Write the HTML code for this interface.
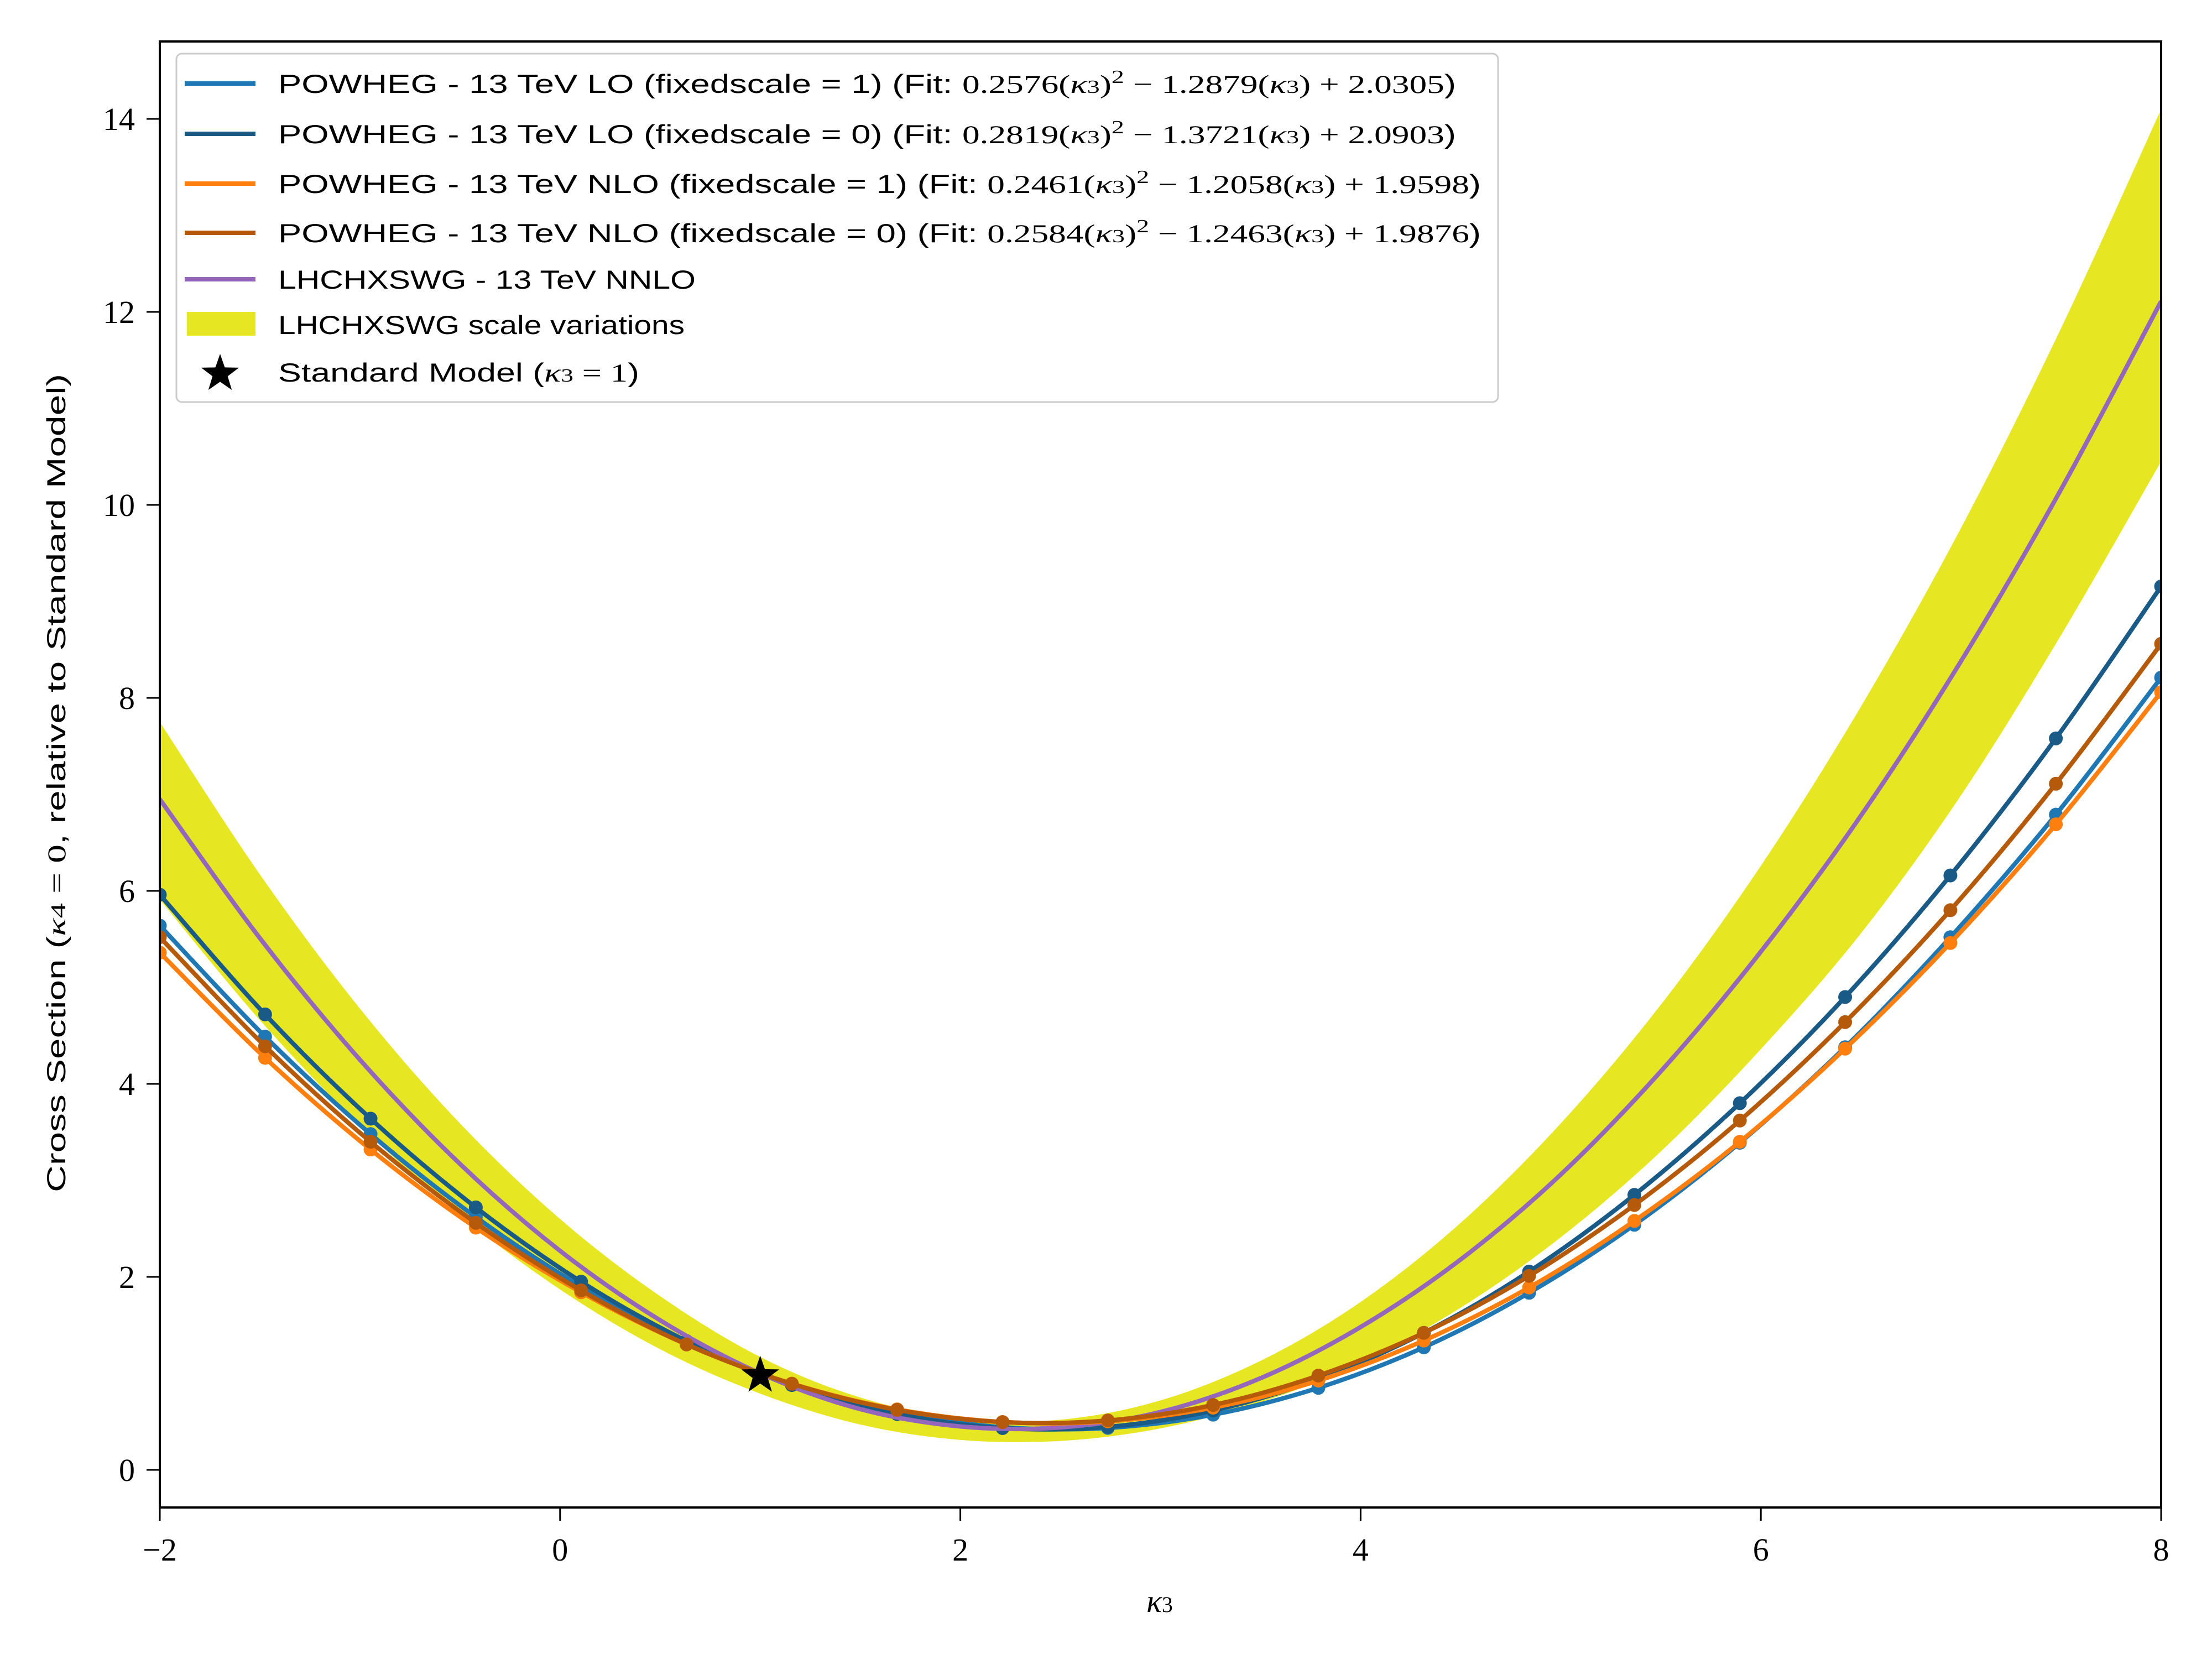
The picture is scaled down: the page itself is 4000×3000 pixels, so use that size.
<!DOCTYPE html>
<html><head><meta charset="utf-8"><style>
html,body{margin:0;padding:0;background:#fff;}
svg{display:block;}
.tick{font-family:"Liberation Serif",serif;font-size:58px;fill:#000;}
.leg{font-family:"Liberation Sans",sans-serif;font-size:47px;fill:#000;}
.m{font-family:"Liberation Serif",serif;}
</style></head><body>
<svg id="chart" xmlns="http://www.w3.org/2000/svg" width="4000" height="3000" viewBox="0 0 4000 3000">
<rect x="0" y="0" width="4000" height="3000" fill="#fff"/>
<defs><clipPath id="plotclip"><rect x="289" y="75" width="3619" height="2651"/></clipPath></defs>
<g id="plot" clip-path="url(#plotclip)"></g>
<g id="axes"></g>
<g id="legend">
 <rect x="319" y="97" width="2390" height="630" rx="10" fill="#fff" fill-opacity="0.85" stroke="#ccc" stroke-width="3"/>
 <g>
  <line x1="334" y1="151" x2="462" y2="151" stroke="#1f77b4" stroke-width="8"/>
  <text class="leg" x="503" y="168" textLength="2130" lengthAdjust="spacingAndGlyphs">POWHEG - 13 TeV LO (fixedscale = 1) (Fit: <tspan class="m">0.2576(<tspan font-style="italic">κ</tspan><tspan font-size="34">3</tspan>)<tspan font-size="34" dy="-18">2</tspan><tspan dy="18"> − 1.2879(</tspan><tspan font-style="italic">κ</tspan><tspan font-size="34">3</tspan>) + 2.0305</tspan>)</text>
 </g>
 <g>
  <line x1="334" y1="242" x2="462" y2="242" stroke="#1a5a87" stroke-width="8"/>
  <text class="leg" x="503" y="259" textLength="2130" lengthAdjust="spacingAndGlyphs">POWHEG - 13 TeV LO (fixedscale = 0) (Fit: <tspan class="m">0.2819(<tspan font-style="italic">κ</tspan><tspan font-size="34">3</tspan>)<tspan font-size="34" dy="-18">2</tspan><tspan dy="18"> − 1.3721(</tspan><tspan font-style="italic">κ</tspan><tspan font-size="34">3</tspan>) + 2.0903</tspan>)</text>
 </g>
 <g>
  <line x1="334" y1="332" x2="462" y2="332" stroke="#ff7f0e" stroke-width="8"/>
  <text class="leg" x="503" y="349" textLength="2175" lengthAdjust="spacingAndGlyphs">POWHEG - 13 TeV NLO (fixedscale = 1) (Fit: <tspan class="m">0.2461(<tspan font-style="italic">κ</tspan><tspan font-size="34">3</tspan>)<tspan font-size="34" dy="-18">2</tspan><tspan dy="18"> − 1.2058(</tspan><tspan font-style="italic">κ</tspan><tspan font-size="34">3</tspan>) + 1.9598</tspan>)</text>
 </g>
 <g>
  <line x1="334" y1="421" x2="462" y2="421" stroke="#b45a0a" stroke-width="8"/>
  <text class="leg" x="503" y="438" textLength="2175" lengthAdjust="spacingAndGlyphs">POWHEG - 13 TeV NLO (fixedscale = 0) (Fit: <tspan class="m">0.2584(<tspan font-style="italic">κ</tspan><tspan font-size="34">3</tspan>)<tspan font-size="34" dy="-18">2</tspan><tspan dy="18"> − 1.2463(</tspan><tspan font-style="italic">κ</tspan><tspan font-size="34">3</tspan>) + 1.9876</tspan>)</text>
 </g>
 <g>
  <line x1="334" y1="505" x2="462" y2="505" stroke="#9467bd" stroke-width="8"/>
  <text class="leg" x="503" y="522" textLength="755" lengthAdjust="spacingAndGlyphs">LHCHXSWG - 13 TeV NNLO</text>
 </g>
 <g>
  <rect x="338" y="564" width="124" height="43" fill="#e6e623"/>
  <text class="leg" x="503" y="604" textLength="735" lengthAdjust="spacingAndGlyphs">LHCHXSWG scale variations</text>
 </g>
 <g>
  <path id="legstar" d="" fill="#000"/>
  <text class="leg" x="503" y="690" textLength="653" lengthAdjust="spacingAndGlyphs">Standard Model (<tspan class="m" font-style="italic">κ</tspan><tspan class="m" font-size="34">3</tspan><tspan class="m"> = 1</tspan>)</text>
 </g>
</g>
<text x="2097" y="2915" text-anchor="middle" class="tick" font-size="62" font-style="italic">κ<tspan font-size="40" font-style="normal">3</tspan></text>
<text transform="translate(118,1416) rotate(-90)" text-anchor="middle" class="leg" font-size="52" textLength="1480" lengthAdjust="spacingAndGlyphs">Cross Section (<tspan class="m" font-style="italic">κ</tspan><tspan class="m" font-size="38">4</tspan><tspan class="m"> = 0</tspan>, relative to Standard Model)</text>
</svg>
<script>
const bandX = [-2,-1.5,-1,-0.5,0,0.5,1,1.5,2,2.5,3,3.5,4,4.5,5,5.5,6,6.5,7,7.5,8];
const nnloY = [6.95,5.51,4.25,3.17,2.27,1.55,1.00,0.63,0.45,0.44,0.60,0.95,1.48,2.18,3.06,4.13,5.37,6.78,8.38,10.16,12.11];
const bandUpper = [7.75,6.17,4.78,3.59,2.60,1.80,1.17,0.75,0.53,0.52,0.72,1.13,1.74,2.56,3.59,4.82,6.26,7.91,9.76,11.83,14.10];
const bandLower = [5.91,4.66,3.57,2.64,1.87,1.25,0.79,0.47,0.31,0.30,0.43,0.70,1.11,1.68,2.41,3.30,4.36,5.56,6.99,8.65,10.45];
const powX = [-2,-1.474,-0.947,-0.421,0.105,0.632,1.158,1.684,2.211,2.737,3.263,3.789,4.316,4.842,5.368,5.895,6.421,6.947,7.474,8];
const loFs1 = [5.64,4.49,3.48,2.62,1.90,1.32,0.885,0.593,0.442,0.435,0.572,0.850,1.27,1.835,2.54,3.39,4.38,5.52,6.79,8.21];
const loFs0 = [5.96,4.72,3.64,2.72,1.95,1.335,0.879,0.579,0.433,0.446,0.615,0.939,1.42,2.055,2.85,3.80,4.90,6.16,7.58,9.155];
const nloFs1 = [5.36,4.27,3.32,2.51,1.84,1.30,0.894,0.627,0.496,0.503,0.645,0.925,1.34,1.89,2.58,3.40,4.365,5.46,6.69,8.06];
const nloFs0 = [5.52,4.39,3.40,2.56,1.86,1.30,0.892,0.622,0.495,0.512,0.672,0.977,1.42,2.01,2.745,3.62,4.64,5.80,7.11,8.56];
const smPoint = [1, 1];
const xTicks = [-2,0,2,4,6,8];
const yTicks = [0,2,4,6,8,10,12,14];

const X0=289, X1=3908, XMIN=-2, XMAX=8;
const Y0PX=2658, YPERUNIT=174.5;
function sx(v){return X0+(v-XMIN)/(XMAX-XMIN)*(X1-X0);}
function sy(v){return Y0PX-v*YPERUNIT;}
const NS='http://www.w3.org/2000/svg';
const plot=document.getElementById('plot');
const axes=document.getElementById('axes');
function mk(tag,attrs,parent){const e=document.createElementNS(NS,tag);for(const k in attrs)e.setAttribute(k,attrs[k]);parent.appendChild(e);return e;}
function smoothPath(xs,ys){
  const p=xs.map((x,i)=>[sx(x),sy(ys[i])]);
  let d='M'+p[0][0].toFixed(1)+','+p[0][1].toFixed(1);
  for(let i=0;i<p.length-1;i++){
    const a=p[Math.max(0,i-1)],b=p[i],c=p[i+1],e=p[Math.min(p.length-1,i+2)];
    const c1=[b[0]+(c[0]-a[0])/6,b[1]+(c[1]-a[1])/6];
    const c2=[c[0]-(e[0]-b[0])/6,c[1]-(e[1]-b[1])/6];
    d+=' C'+c1[0].toFixed(1)+','+c1[1].toFixed(1)+' '+c2[0].toFixed(1)+','+c2[1].toFixed(1)+' '+c[0].toFixed(1)+','+c[1].toFixed(1);
  }
  return d;
}
let bd=smoothPath(bandX,bandUpper);
const rx=bandX.slice().reverse(), rl=bandLower.slice().reverse();
bd+=' L'+smoothPath(rx,rl).slice(1)+' Z';
const band=mk('path',{d:bd,fill:'#e6e623'},plot);



function series(ys,color,name){
  const g=mk('g',{},plot);
  
  
  mk('path',{d:smoothPath(powX,ys),fill:'none',stroke:color,'stroke-width':8,'stroke-linejoin':'round'},g);
  powX.forEach((x,i)=>{
    const c=mk('circle',{cx:sx(x),cy:sy(ys[i]),r:12.5,fill:color},g);
    
    
  });
}
series(loFs1,'#1f77b4','lo-fixedscale1-series');
series(loFs0,'#1a5a87','lo-fixedscale0-series');
const nn=mk('path',{d:smoothPath(bandX,nnloY),fill:'none',stroke:'#9467bd','stroke-width':8},plot);


series(nloFs1,'#ff7f0e','nlo-fixedscale1-series');
series(nloFs0,'#b45a0a','nlo-fixedscale0-series');

function starD(cx,cy,R){
  const r=R*0.4;let d='';
  for(let i=0;i<10;i++){const a=-Math.PI/2+i*Math.PI/5;const rr=i%2?r:R;d+=(i?'L':'M')+(cx+rr*Math.cos(a)).toFixed(1)+','+(cy+rr*Math.sin(a)).toFixed(1);}
  return d+'Z';
}
const star=mk('path',{d:starD(sx(smPoint[0]),sy(smPoint[1])+4,36),fill:'#000'},plot);


document.getElementById('legstar').setAttribute('d',starD(398,676,36));

const fr=mk('rect',{x:X0,y:75,width:X1-X0,height:2726-75,fill:'none',stroke:'#000','stroke-width':4},axes);


xTicks.forEach(v=>{
  const x=sx(v);
  mk('line',{x1:x,y1:2726,x2:x,y2:2750,stroke:'#000','stroke-width':3},axes);
  const t=mk('text',{x:x,y:2822,'text-anchor':'middle',class:'tick'},axes);
  t.textContent=v<0?'−'+Math.abs(v):String(v);
  
  
});
yTicks.forEach(v=>{
  const y=sy(v);
  mk('line',{x1:X0-24,y1:y,x2:X0,y2:y,stroke:'#000','stroke-width':3},axes);
  const t=mk('text',{x:244,y:y+20,'text-anchor':'end',class:'tick'},axes);
  t.textContent=String(v);
  
  
});
</script>
</body></html>
